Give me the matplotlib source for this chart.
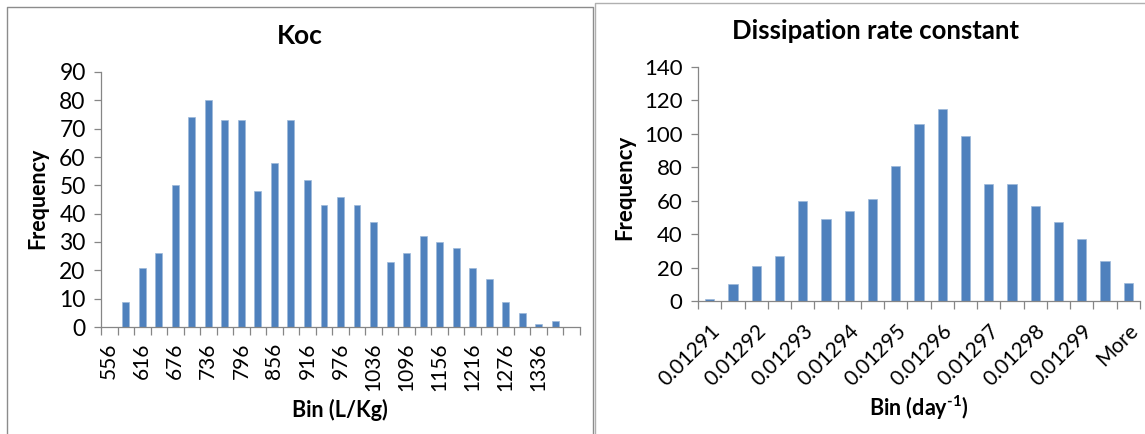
import numpy as np
import matplotlib
matplotlib.use('Agg')
import matplotlib.pyplot as plt
from matplotlib.lines import Line2D

plt.rcParams['font.family'] = ['Lato', 'DejaVu Sans']
plt.rcParams['mathtext.fontset'] = 'custom'
plt.rcParams['mathtext.rm'] = 'Lato:bold'
plt.rcParams['mathtext.bf'] = 'Lato:bold'

# Koc histogram (bins every 30 L/Kg, last bin "More")
koc_bins = ['556', '586', '616', '646', '676', '706', '736', '766', '796', '826',
            '856', '886', '916', '946', '976', '1006', '1036', '1066', '1096', '1126',
            '1156', '1186', '1216', '1246', '1276', '1306', '1336', '1366', 'More']
koc_freq = [0, 9, 21, 26, 50, 74, 80, 73, 73, 48,
            58, 73, 52, 43, 46, 43, 37, 23, 26, 32,
            30, 28, 21, 17, 9, 5, 1, 2, 0]

# dissipation rate constant histogram
k_bins = ['0.01291', '0.012915', '0.01292', '0.012925', '0.01293', '0.012935',
          '0.01294', '0.012945', '0.01295', '0.012955', '0.01296', '0.012965',
          '0.01297', '0.012975', '0.01298', '0.012985', '0.01299', '0.012995', 'More']
k_freq = [1, 10, 21, 27, 60, 49, 54, 61, 81, 106, 115, 99, 70, 70, 57, 47, 37, 24, 11]

W, H = 1145, 434
fig = plt.figure(figsize=(W / 100, H / 100), dpi=100)

bar_col = '#4F81BD'
axis_col = '#868686'


def px_axes(x0, y0, x1, y1):
    return fig.add_axes([x0 / W, 1 - y1 / H, (x1 - x0) / W, (y1 - y0) / H])


def style(ax, n):
    for s in ['top', 'right']:
        ax.spines[s].set_visible(False)
    for s in ['left', 'bottom']:
        ax.spines[s].set_color(axis_col)
        ax.spines[s].set_linewidth(0.9)
    ax.set_xlim(-0.5, n - 0.5)
    ax.set_xticks(np.arange(n + 1) - 0.5, minor=True)
    ax.tick_params(axis='x', which='minor', length=6, color=axis_col, width=0.9)
    ax.tick_params(axis='x', which='major', length=0)
    ax.tick_params(axis='y', length=5, color=axis_col, width=0.9)


# left chart
ax1 = px_axes(101, 72, 580, 327)
x1 = np.arange(len(koc_freq))
ax1.bar(x1, koc_freq, width=0.42, color=bar_col, edgecolor='#9DB8DA', linewidth=0.5)
style(ax1, len(koc_freq))
ax1.set_ylim(0, 90)
ax1.set_yticks(range(0, 91, 10))
ax1.tick_params(axis='y', labelsize=16.5, pad=6)
lab_idx = list(range(0, 27, 2))
ax1.set_xticks(lab_idx)
ax1.set_xticklabels([koc_bins[i] for i in lab_idx], rotation=90, fontsize=15)
ax1.tick_params(axis='x', which='major', pad=11)
fig.text(300 / W, 1 - 36 / H, 'Koc', ha='center', va='center', fontsize=19, fontweight='bold')
fig.text(38 / W, 1 - 198 / H, 'Frequency', ha='center', va='center', rotation=90,
         fontsize=15.5, fontweight='bold')
fig.text(340 / W, 1 - 410 / H, 'Bin (L/Kg)', ha='center', va='center', fontsize=15.5,
         fontweight='bold')

# right chart
ax2 = px_axes(698, 67, 1140, 301)
x2 = np.arange(len(k_freq))
ax2.bar(x2, k_freq, width=0.4, color=bar_col, edgecolor='#9DB8DA', linewidth=0.5)
style(ax2, len(k_freq))
ax2.set_ylim(0, 140)
ax2.set_yticks(range(0, 141, 20))
ax2.tick_params(axis='y', labelsize=16, pad=6)
lab_idx2 = list(range(0, 19, 2))
ax2.set_xticks(lab_idx2)
ax2.set_xticklabels([k_bins[i] for i in lab_idx2], rotation=45, ha='right',
                    rotation_mode='anchor', fontsize=15)
ax2.tick_params(axis='x', which='major', pad=14)
fig.text(876 / W, 1 - 31 / H, 'Dissipation rate constant', ha='center', va='center',
         fontsize=18.5, fontweight='bold')
fig.text(625 / W, 1 - 187 / H, 'Frequency', ha='center', va='center', rotation=90,
         fontsize=16, fontweight='bold')
fig.text(919 / W, 1 - 408 / H, r'Bin (day$^{\mathrm{\text{-}1}}$)', ha='center',
         va='center', fontsize=15.5, fontweight='bold')

# chart frames
def fline(xs, ys, c):
    fig.add_artist(Line2D([x / W for x in xs], [1 - y / H for y in ys], color=c, lw=1.0))

fline([7, 7, 593, 593], [434, 7, 7, 434], '#8C8C8C')
fline([595, 595, 1145], [434, 3, 3], '#B0B0B0')

fig.savefig('out.png', dpi=100)
